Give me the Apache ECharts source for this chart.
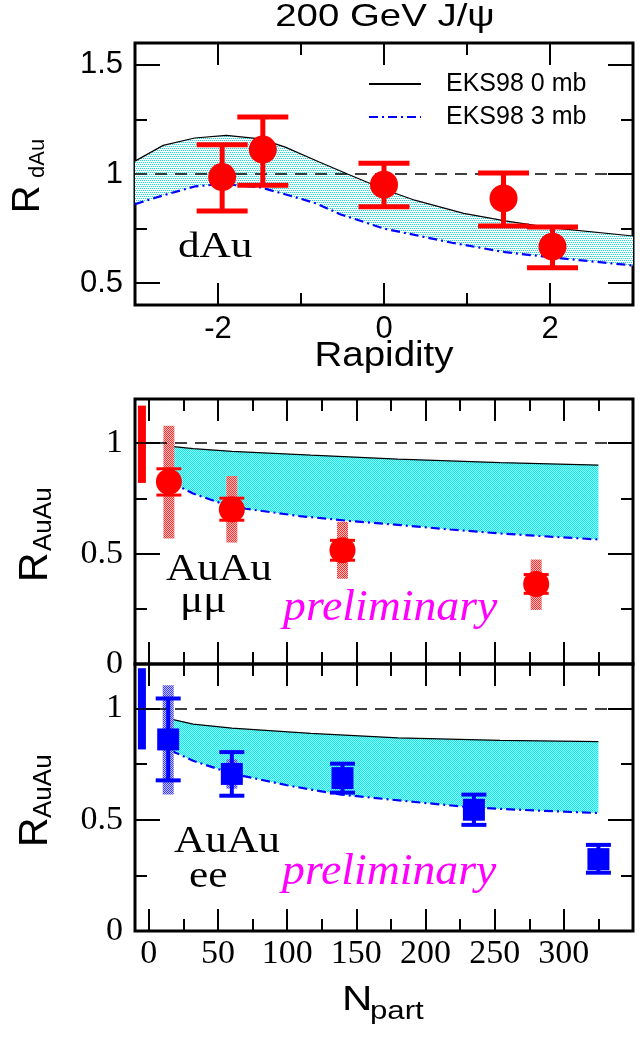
<!DOCTYPE html>
<html><head><meta charset="utf-8">
<script src="https://cdn.jsdelivr.net/npm/echarts@6/dist/echarts.min.js"></script>
<style>html,body{margin:0;padding:0;background:#fff}#chart{width:644px;height:1038px}</style>
</head><body><div id="chart"></div>
<script>
// ---------------- DATA ----------------
// Top panel: R_dAu vs rapidity
const dAuRap   = [-1.95, -1.46, 0.0, 1.44, 2.03];
const dAuR     = [0.986, 1.112, 0.951, 0.888, 0.667];
const dAuErrLo = [0.831, 0.949, 0.850, 0.762, 0.571];
const dAuErrHi = [1.134, 1.261, 1.049, 1.005, 0.757];
const dAuM0Rap = [-3, -2.66, -2.28, -1.9, -1.49, -1.19, -0.78, -0.44, 0, 0.37, 0.96, 1.46, 2, 3];
const dAuM0    = [1.059, 1.131, 1.165, 1.177, 1.161, 1.123, 1.055, 1.0, 0.93, 0.88, 0.82, 0.785, 0.754, 0.716];
const dAuM3Rap = [-3, -2.68, -2.28, -1.95, -1.49, -1.08, -0.82, -0.53, 0, 0.82, 1.46, 2, 3];
const dAuM3    = [0.862, 0.9, 0.943, 0.954, 0.939, 0.895, 0.866, 0.816, 0.75, 0.685, 0.642, 0.619, 0.581];

// Middle panel: AuAu mu mu vs Npart
const mmNpart  = [14.5, 60, 140, 280];
const mmR      = [0.825, 0.70, 0.515, 0.362];
const mmStatLo = [0.765, 0.651, 0.47, 0.32];
const mmStatHi = [0.884, 0.751, 0.56, 0.405];
const mmSysLo  = [0.568, 0.55, 0.386, 0.245];
const mmSysHi  = [1.079, 0.851, 0.644, 0.473];
const mmGlobal = [[-5, 0.82, 1.17]];
const mmM0N    = [18, 32, 60, 117, 180, 254, 325];
const mmM0     = [0.984, 0.975, 0.963, 0.946, 0.928, 0.912, 0.901];
const mmM3N    = [18, 22.5, 32, 51.6, 70, 109, 145, 182, 218, 254, 290, 325];
const mmM3     = [0.84, 0.803, 0.772, 0.729, 0.703, 0.67, 0.648, 0.629, 0.609, 0.591, 0.577, 0.564];

// Bottom panel: AuAu e e vs Npart
const eeNpart  = [14, 60, 140, 235, 325];
const eeR      = [0.861, 0.706, 0.687, 0.545, 0.323];
const eeStatLo = [0.677, 0.608, 0.622, 0.477, 0.262];
const eeStatHi = [1.045, 0.804, 0.752, 0.613, 0.387];
const eeSysN   = [14, 60];
const eeSysLo  = [0.613, 0.64];
const eeSysHi  = [1.105, 0.772];
const eeGlobal = [[-5, 0.816, 1.181]];
const eeM0N    = [16, 32, 60, 117, 180, 254, 325];
const eeM0     = [0.952, 0.93, 0.912, 0.888, 0.868, 0.857, 0.851];
const eeM3N    = [16, 22, 32, 51, 62, 100, 117, 139, 189, 234, 278, 325];
const eeM3     = [0.81, 0.794, 0.765, 0.726, 0.705, 0.655, 0.636, 0.613, 0.582, 0.555, 0.542, 0.53];

// Axis ticks / labels
const rapTicksMajor = [-2, 0, 2], rapTicksMinor = [-1, 1], rapLabels = [-2, 0, 2];
const rdTicksMajor = [0.5, 1, 1.5], rdTicksMinor = [0.75, 1.25], rdLabels = [0.5, 1, 1.5];
const npTicksMajor = [0, 50, 100, 150, 200, 250, 300], npTicksMinor = [25, 75, 125, 175, 225, 275, 325];
const npLabels = [0, 50, 100, 150, 200, 250, 300];
const raTicksMajor = [0.5, 1], raTicksMinor = [0.25, 0.75], raLabels = [0, 0.5, 1];
const unity = 1;

// ---------------- HELPERS ----------------
const sans = '"Liberation Sans", Arial, sans-serif';
const serif = '"Liberation Serif", "Times New Roman", serif';
const RED = '#ff0000', BLUE = '#0000ff', MAG = '#ff00ff';
const pairs = (xs, ys) => xs.map((x, i) => [x, ys[i]]);

function pattern(w, h, bg, fg, pts) {
  const c = document.createElement('canvas'); c.width = w; c.height = h;
  const ctx = c.getContext('2d'); ctx.fillStyle = bg; ctx.fillRect(0, 0, w, h);
  ctx.fillStyle = fg; pts.forEach(p => ctx.fillRect(p[0], p[1], 1, 1));
  return {image: c, repeat: 'repeat'};
}
const bandTop = pattern(4, 4, '#ffffff', '#00e0e0', [[0,0],[2,0],[1,2],[3,2]]);
const bandMid = pattern(2, 2, '#a8ffff', '#00eeee', [[0,0],[1,1]]);
const sysRed  = pattern(2, 2, '#ffc4c4', '#ff2a2a', [[0,0],[1,1]]);
const sysBlue = pattern(2, 2, '#c4c4ff', '#3a3aff', [[0,0],[1,1]]);

const tickStyle = {color: '#000', width: 2};
function axisSet(dim, gi, min, max, major, minor, majorLen, labelVals, labelStyle) {
  const sides = dim === 'x' ? ['bottom', 'top'] : ['left', 'right'];
  const out = [];
  sides.forEach((pos, si) => {
    [[major, majorLen], [minor, 12]].forEach(([vals, len], k) => {
      out.push({
        type: 'value', gridIndex: gi, position: pos, min, max, offset: 0,
        axisLine: {show: false, onZero: false}, splitLine: {show: false},
        axisTick: {show: true, inside: true, length: len, customValues: vals, lineStyle: tickStyle},
        axisLabel: (si === 0 && k === 0 && labelVals)
          ? Object.assign({show: true, customValues: labelVals}, labelStyle) : {show: false}
      });
    });
  });
  return out;
}

function band(gi, ux, uy, lx, ly, fill) {
  return {type: 'custom', xAxisIndex: gi * 4, yAxisIndex: gi * 4, silent: true, clip: true, z: 1,
    data: [[ux[0], uy[0]]],
    renderItem: (p, api) => {
      const pts = pairs(ux, uy).map(q => api.coord(q))
        .concat(pairs(lx, ly).reverse().map(q => api.coord(q)));
      return {type: 'polygon', shape: {points: pts}, style: {fill: fill, stroke: null}};
    }};
}
function curve(gi, name, xs, ys, style, withUnity) {
  const s = {type: 'line', name, xAxisIndex: gi * 4, yAxisIndex: gi * 4, data: pairs(xs, ys),
    symbol: 'none', silent: true, z: 3, lineStyle: style, itemStyle: {color: style.color}};
  if (withUnity) s.markLine = {symbol: 'none', silent: true, label: {show: false},
    lineStyle: {type: [12, 8], color: '#000', width: 1.5}, data: [{yAxis: unity}], animation: false};
  return s;
}
function errBars(gi, xs, lo, hi, capW, lw, color) {
  return {type: 'custom', xAxisIndex: gi * 4, yAxisIndex: gi * 4, silent: true, z: 5,
    data: xs.map((x, i) => [x, lo[i], hi[i]]),
    renderItem: (p, api) => {
      const a = api.coord([api.value(0), api.value(1)]), b = api.coord([api.value(0), api.value(2)]);
      const h = capW / 2, st = {stroke: color, lineWidth: lw};
      return {type: 'group', children: [
        {type: 'line', shape: {x1: a[0], y1: a[1], x2: b[0], y2: b[1]}, style: st},
        {type: 'line', shape: {x1: a[0] - h, y1: a[1], x2: a[0] + h, y2: a[1]}, style: st},
        {type: 'line', shape: {x1: b[0] - h, y1: b[1], x2: b[0] + h, y2: b[1]}, style: st}
      ]};
    }};
}
function boxes(gi, data, w, fill, z) {
  return {type: 'custom', xAxisIndex: gi * 4, yAxisIndex: gi * 4, silent: true, z: z || 4,
    data,
    renderItem: (p, api) => {
      const a = api.coord([api.value(0), api.value(2)]), b = api.coord([api.value(0), api.value(1)]);
      return {type: 'rect', shape: {x: a[0] - w / 2, y: a[1], width: w, height: b[1] - a[1]}, style: {fill}};
    }};
}
function points(gi, xs, ys, symbol, size, color) {
  return {type: 'scatter', xAxisIndex: gi * 4, yAxisIndex: gi * 4, data: pairs(xs, ys),
    symbol, symbolSize: size, itemStyle: {color, opacity: 1}, silent: true, z: 6};
}
function txt(text, x, y, size, family, o) {
  o = o || {};
  return {type: 'text', x, y, rotation: o.rot || 0, scaleX: o.sx || 1, z: 100, silent: true,
    style: {text, font: (o.italic ? 'italic ' : '') + size + 'px ' + family, fill: o.color || '#000',
      textAlign: o.align || 'left', align: o.align || 'left',
      textVerticalAlign: 'middle', verticalAlign: 'middle'}};
}

// ---------------- OPTION ----------------
const gridBase = {show: true, borderColor: '#000', borderWidth: 3, backgroundColor: 'transparent',
  containLabel: false, outerBoundsMode: 'none'};
const grids = [
  Object.assign({left: 135, top: 43, width: 498, height: 262}, gridBase),
  Object.assign({left: 135, top: 399, width: 498, height: 265}, gridBase),
  Object.assign({left: 135, top: 664, width: 498, height: 267}, gridBase)
];
const sansLbl = {fontFamily: sans, fontSize: 31, color: '#000', margin: 9};
const serifLbl = {fontFamily: serif, fontSize: 34, color: '#000', margin: 8};

const xAxes = [].concat(
  axisSet('x', 0, -3, 3, rapTicksMajor, rapTicksMinor, 22, rapLabels, sansLbl),
  axisSet('x', 1, -10, 350, npTicksMajor, npTicksMinor, 22, null),
  axisSet('x', 2, -10, 350, npTicksMajor, npTicksMinor, 22, npLabels, Object.assign({}, serifLbl, {margin: 6}))
);
const yAxes = [].concat(
  axisSet('y', 0, 0.4, 1.6, rdTicksMajor, rdTicksMinor, 25, rdLabels, Object.assign({}, sansLbl, {margin: 12})),
  axisSet('y', 1, 0, 1.2, raTicksMajor, raTicksMinor, 25, raLabels, Object.assign({}, serifLbl, {margin: 12})),
  axisSet('y', 2, 0, 1.2, raTicksMajor, raTicksMinor, 25, raLabels, Object.assign({}, serifLbl, {margin: 12}))
);

const lineBlack = {color: '#000', width: 1.2, type: 'solid'};
const lineBlue = {color: BLUE, width: 2.2, type: [9, 4, 2, 4]};

const series = [
  // top
  band(0, dAuM0Rap, dAuM0, dAuM3Rap, dAuM3, bandTop),
  curve(0, 'EKS98 0 mb', dAuM0Rap, dAuM0, lineBlack, true),
  curve(0, 'EKS98 3 mb', dAuM3Rap, dAuM3, lineBlue),
  errBars(0, dAuRap, dAuErrLo, dAuErrHi, 51, 5, RED),
  points(0, dAuRap, dAuR, 'circle', 28, RED),
  // middle
  band(1, mmM0N, mmM0, mmM3N, mmM3, bandMid),
  curve(1, 'EKS98 0 mb', mmM0N, mmM0, lineBlack, true),
  curve(1, 'EKS98 3 mb', mmM3N, mmM3, lineBlue),
  boxes(1, mmGlobal, 8, RED),
  boxes(1, mmNpart.map((x, i) => [x, mmSysLo[i], mmSysHi[i]]), 11, sysRed),
  errBars(1, mmNpart, mmStatLo, mmStatHi, 25, 3, RED),
  points(1, mmNpart, mmR, 'circle', 26, RED),
  // bottom
  band(2, eeM0N, eeM0, eeM3N, eeM3, bandMid),
  curve(2, 'EKS98 0 mb', eeM0N, eeM0, lineBlack, true),
  curve(2, 'EKS98 3 mb', eeM3N, eeM3, lineBlue),
  boxes(2, eeGlobal, 8, BLUE),
  boxes(2, eeSysN.map((x, i) => [x, eeSysLo[i], eeSysHi[i]]), 11, sysBlue),
  errBars(2, eeNpart, eeStatLo, eeStatHi, 25, 4, BLUE),
  points(2, eeNpart, eeR, 'rect', [22, 22], BLUE)
];

const rot = Math.PI / 2;
const graphic = [
  txt('200 GeV J/\u03c8', 385, 17, 32, sans, {align: 'center', sx: 1.2}),
  txt('Rapidity', 384, 356, 35, sans, {align: 'center', sx: 1.1}),
  txt('N', 342, 1000, 35, sans, {sx: 1.2}),
  txt('part', 370, 1012, 26, sans, {sx: 1.2}),
  txt('R', 29, 213, 38, sans, {rot}),
  txt('dAu', 38, 178, 22, sans, {rot}),
  txt('R', 36, 582, 41, sans, {rot}),
  txt('AuAu', 44, 551, 26, sans, {rot}),
  txt('R', 36, 847, 41, sans, {rot}),
  txt('AuAu', 44, 818, 26, sans, {rot}),
  txt('dAu', 178, 248, 36, serif, {sx: 1.2}),
  txt('AuAu', 166, 570, 38, serif, {sx: 1.14}),
  txt('\u03bc\u03bc', 180, 602, 38, serif, {sx: 1.14}),
  txt('preliminary', 283, 608, 44, serif, {italic: true, color: MAG, sx: 1.04}),
  txt('AuAu', 174, 842, 38, serif, {sx: 1.14}),
  txt('ee', 189, 877, 38, serif, {sx: 1.14}),
  txt('preliminary', 282, 872, 44, serif, {italic: true, color: MAG, sx: 1.04})
];

const option = {
  animation: false,
  backgroundColor: '#fff',
  grid: grids,
  xAxis: xAxes,
  yAxis: yAxes,
  legend: {
    left: 363, top: 66, orient: 'vertical', itemWidth: 52, itemHeight: 14, itemGap: 7,
    data: ['EKS98 0 mb', 'EKS98 3 mb'], selectedMode: false,
    itemStyle: {opacity: 0},
    textStyle: {fontFamily: sans, fontSize: 25, color: '#000', lineHeight: 26, padding: [0, 0, 0, 20]}
  },
  series,
  graphic
};
const chart = echarts.init(document.getElementById('chart'), null, {renderer: 'canvas'});
chart.setOption(option);
</script></body></html>
